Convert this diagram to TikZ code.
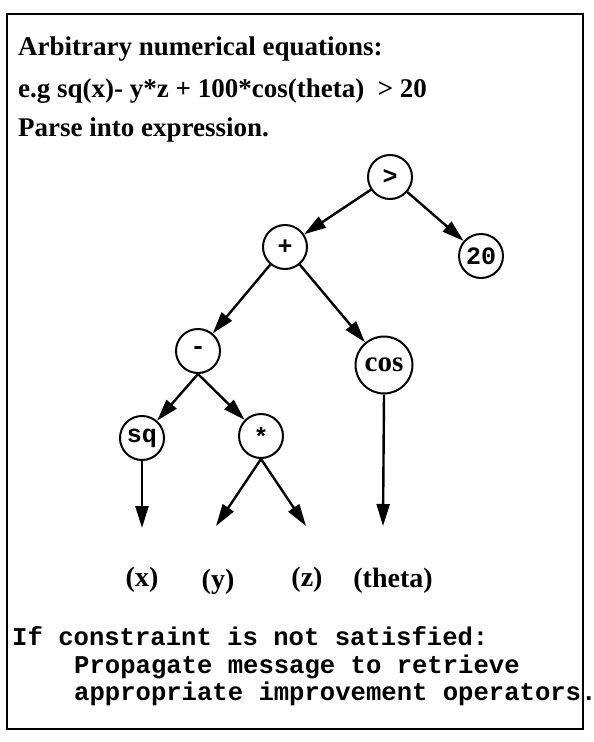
\documentclass[tikz,border=0pt]{standalone}
\usepackage{fontspec}
\setmainfont{Liberation Serif}
\setmonofont{Liberation Mono}
\usetikzlibrary{arrows.meta}
\begin{document}
\begin{tikzpicture}[x=1pt,y=-1pt,
  op/.style={circle,draw,line width=2pt,minimum size=44pt,inner sep=0pt,font=\ttfamily\bfseries\fontsize{25}{25}\selectfont},
  edge/.style={line width=2.4pt,-{Triangle[length=22pt,width=13pt]}},
  leaf/.style={font=\bfseries\fontsize{28}{28}\selectfont},
  head/.style={anchor=base west,inner sep=0pt,font=\bfseries\fontsize{27}{30}\selectfont},
  note/.style={anchor=base west,inner sep=0pt,font=\ttfamily\bfseries\fontsize{25.6}{30}\selectfont},
]
\useasboundingbox (0,0) rectangle (594,742);
\draw[line width=1.8pt] (7,14) rectangle (583,729);

\node[head] (t1) at (18,55) {Arbitrary numerical equations:};
\node[head] (t2) at (18,97) {e.g sq(x)- y*z + 100*cos(theta)\ \ > 20};
\node[head] (t3) at (18,136) {Parse into expression.};

\node[op] (gt) at (390,177) {>};
\node[op] (plus) at (285,247) {+};
\node[op] (twenty) at (481,256) {20};
\node[op] (minus) at (198,351) {-};
\node[op,minimum size=57pt,font=\bfseries\fontsize{29}{29}\selectfont] (cos) at (384,365) {cos};
\node[op] (sq) at (142,438) {sq};
\node[op] (star) at (261,436) {*};

\coordinate (ax) at (142,528);
\coordinate (ay) at (216,526);
\coordinate (az) at (306,526);
\coordinate (at) at (383,526);

\node[leaf] (lx) at (142,580) {(x)};
\node[leaf] (ly) at (218,582) {(y)};
\node[leaf] (lz) at (307,580) {(z)};
\node[leaf] (lt) at (393,581) {(theta)};

\draw[edge] (gt) -- (plus);
\draw[edge] (gt) -- (twenty);
\draw[edge] (plus) -- (minus);
\draw[edge] (plus) -- (cos);
\draw[edge] (minus.south) -- (sq);
\draw[edge] (minus.south) -- (star);
\draw[edge] (sq.south) -- (ax);
\draw[edge] (star.south) -- (ay);
\draw[edge] (star.south) -- (az);
\draw[edge] (cos.south) -- (at);

\node[note] (n1) at (12,645) {If constraint is not satisfied:};
\node[note] (n2) at (74,673) {Propagate message to retrieve};
\node[note] (n3) at (74,700) {appropriate improvement operators.};
\end{tikzpicture}
\end{document}
